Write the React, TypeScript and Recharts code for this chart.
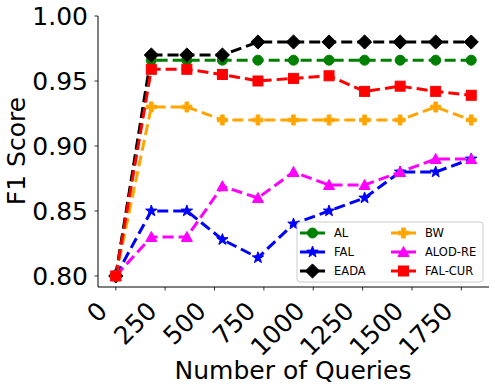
import { Line, LineChart, XAxis, YAxis } from 'recharts';

const queries = [0, 180, 360, 540, 720, 900, 1080, 1260, 1440, 1620, 1800];
const xTicks = [0, 250, 500, 750, 1000, 1250, 1500, 1750];
const yTicks = [0.8, 0.85, 0.9, 0.95, 1.0];

const alScores = [0.8, 0.966, 0.966, 0.966, 0.966, 0.966, 0.966, 0.966, 0.966, 0.966, 0.966];
const falScores = [0.8, 0.85, 0.85, 0.828, 0.814, 0.84, 0.85, 0.86, 0.88, 0.88, 0.89];
const eadaScores = [0.8, 0.97, 0.97, 0.97, 0.98, 0.98, 0.98, 0.98, 0.98, 0.98, 0.98];
const bwScores = [0.8, 0.93, 0.93, 0.92, 0.92, 0.92, 0.92, 0.92, 0.92, 0.93, 0.92];
const alodScores = [0.8, 0.83, 0.83, 0.869, 0.86, 0.88, 0.87, 0.87, 0.88, 0.89, 0.89];
const falCurScores = [0.8, 0.959, 0.959, 0.955, 0.95, 0.952, 0.954, 0.942, 0.946, 0.942, 0.939];

type Shape = 'circle' | 'star' | 'diamond' | 'plus' | 'triangle' | 'square';

const series: { key: string; name: string; color: string; shape: Shape; values: number[] }[] = [
  { key: 'al', name: 'AL', color: '#008000', shape: 'circle', values: alScores },
  { key: 'fal', name: 'FAL', color: '#0000ff', shape: 'star', values: falScores },
  { key: 'eada', name: 'EADA', color: '#000000', shape: 'diamond', values: eadaScores },
  { key: 'bw', name: 'BW', color: '#ffa500', shape: 'plus', values: bwScores },
  { key: 'alod', name: 'ALOD-RE', color: '#ff00ff', shape: 'triangle', values: alodScores },
  { key: 'falcur', name: 'FAL-CUR', color: '#ff0000', shape: 'square', values: falCurScores },
];

const data = queries.map((q, i) => {
  const row: Record<string, number> = { q };
  series.forEach((s) => {
    row[s.key] = s.values[i];
  });
  return row;
});

const FONT = 'DejaVu Sans, sans-serif';

function Marker({ shape, color, cx, cy }: { shape: Shape; color: string; cx: number; cy: number }) {
  const common = { fill: color, stroke: color, strokeWidth: 1 };
  if (shape === 'circle') return <circle cx={cx} cy={cy} r={5} {...common} />;
  if (shape === 'square') return <rect x={cx - 5} y={cy - 5} width={10} height={10} {...common} />;
  if (shape === 'diamond') {
    const r = 7.1;
    return <polygon points={`${cx},${cy - r} ${cx + r},${cy} ${cx},${cy + r} ${cx - r},${cy}`} {...common} />;
  }
  if (shape === 'triangle') {
    return <polygon points={`${cx},${cy - 5.5} ${cx + 5.5},${cy + 4.5} ${cx - 5.5},${cy + 4.5}`} {...common} />;
  }
  if (shape === 'plus') {
    const a = 5;
    const b = 1.8;
    const pts = [
      [-b, -a], [b, -a], [b, -b], [a, -b], [a, b], [b, b],
      [b, a], [-b, a], [-b, b], [-a, b], [-a, -b], [-b, -b],
    ]
      .map(([x, y]) => `${cx + x},${cy + y}`)
      .join(' ');
    return <polygon points={pts} {...common} />;
  }
  // star
  const pts: string[] = [];
  for (let i = 0; i < 10; i++) {
    const r = i % 2 === 0 ? 6 : 2.4;
    const ang = -Math.PI / 2 + (i * Math.PI) / 5;
    pts.push(`${cx + r * Math.cos(ang)},${cy + r * Math.sin(ang)}`);
  }
  return <polygon points={pts.join(' ')} {...common} />;
}

const makeDot = (shape: Shape, color: string) => (props: any) => {
  const { cx, cy, index } = props;
  return <Marker key={`${shape}-${index}`} shape={shape} color={color} cx={cx} cy={cy} />;
};

const XTick = (props: any) => {
  const { x, y, payload } = props;
  const ax = x - 7;
  const ay = y + 22;
  return (
    <text
      x={ax}
      y={ay}
      transform={`rotate(-45, ${ax}, ${ay})`}
      textAnchor="end"
      fontSize={25}
      fontFamily={FONT}
      fill="#000"
    >
      {payload.value}
    </text>
  );
};

const YTick = (props: any) => {
  const { x, y, payload } = props;
  return (
    <text x={x} y={y} dy={9} textAnchor="end" fontSize={25} fontFamily={FONT} fill="#000">
      {Number(payload.value).toFixed(2)}
    </text>
  );
};

function LegendBox() {
  const rows = [series.slice(0, 3), series.slice(3, 6)];
  const colX = [300, 391];
  return (
    <g>
      <rect x={297} y={222} width={186} height={60} rx={3} fill="rgba(255,255,255,0.8)" stroke="#cccccc" />
      {rows.map((col, ci) =>
        col.map((s, ri) => {
          const y = 233 + ri * 19;
          const x0 = colX[ci];
          return (
            <g key={s.key}>
              <line x1={x0} x2={x0 + 25} y1={y} y2={y} stroke={s.color} strokeWidth={3} />
              <Marker shape={s.shape} color={s.color} cx={x0 + 12.5} cy={y} />
              <text x={x0 + 34} y={y + 4.2} fontSize={11.5} fontFamily={FONT} fill="#000">
                {s.name}
              </text>
            </g>
          );
        }),
      )}
    </g>
  );
}

export default function App() {
  return (
    <div style={{ position: 'absolute', left: 0, top: 0, width: 495, height: 392, background: '#fff' }}>
      <LineChart width={495} height={392} data={data} margin={{ top: 16, right: 6, bottom: 0, left: 0 }}>
        <XAxis
          dataKey="q"
          type="number"
          domain={[-90, 1890]}
          ticks={xTicks}
          allowDataOverflow
          height={105}
          tickSize={3.5}
          tickMargin={0}
          tick={<XTick />}
          axisLine={{ stroke: '#000', strokeWidth: 1 }}
          tickLine={{ stroke: '#000', strokeWidth: 0.8 }}
          interval={0}
        />
        <XAxis
          xAxisId="top"
          dataKey="q"
          type="number"
          orientation="top"
          domain={[-90, 1890]}
          height={0}
          tick={false}
          tickLine={false}
          axisLine={{ stroke: '#000', strokeWidth: 1 }}
        />
        <YAxis
          type="number"
          domain={[0.7915, 1.0]}
          ticks={yTicks}
          allowDataOverflow
          width={98}
          tickSize={3.5}
          tickMargin={6.5}
          tick={<YTick />}
          axisLine={{ stroke: '#000', strokeWidth: 1 }}
          tickLine={{ stroke: '#000', strokeWidth: 0.8 }}
          interval={0}
        />
        <YAxis
          yAxisId="right"
          type="number"
          orientation="right"
          domain={[0.7915, 1.0]}
          width={0}
          tick={false}
          tickLine={false}
          axisLine={{ stroke: '#000', strokeWidth: 1 }}
        />
        {series.map((s) => (
          <Line
            key={s.key}
            dataKey={s.key}
            name={s.name}
            stroke={s.color}
            strokeWidth={3}
            strokeDasharray="11 5"
            dot={makeDot(s.shape, s.color)}
            activeDot={false}
            isAnimationActive={false}
            type="linear"
          />
        ))}
      </LineChart>
      <svg
        width={495}
        height={392}
        style={{ position: 'absolute', left: 0, top: 0, pointerEvents: 'none' }}
      >
        <text
          x={293}
          y={379}
          textAnchor="middle"
          fontSize={25}
          fontFamily={FONT}
          fill="#000"
        >
          Number of Queries
        </text>
        <text
          x={0}
          y={0}
          transform="translate(25, 151) rotate(-90)"
          textAnchor="middle"
          fontSize={25}
          fontFamily={FONT}
          fill="#000"
        >
          F1 Score
        </text>
        <LegendBox />
      </svg>
    </div>
  );
}
